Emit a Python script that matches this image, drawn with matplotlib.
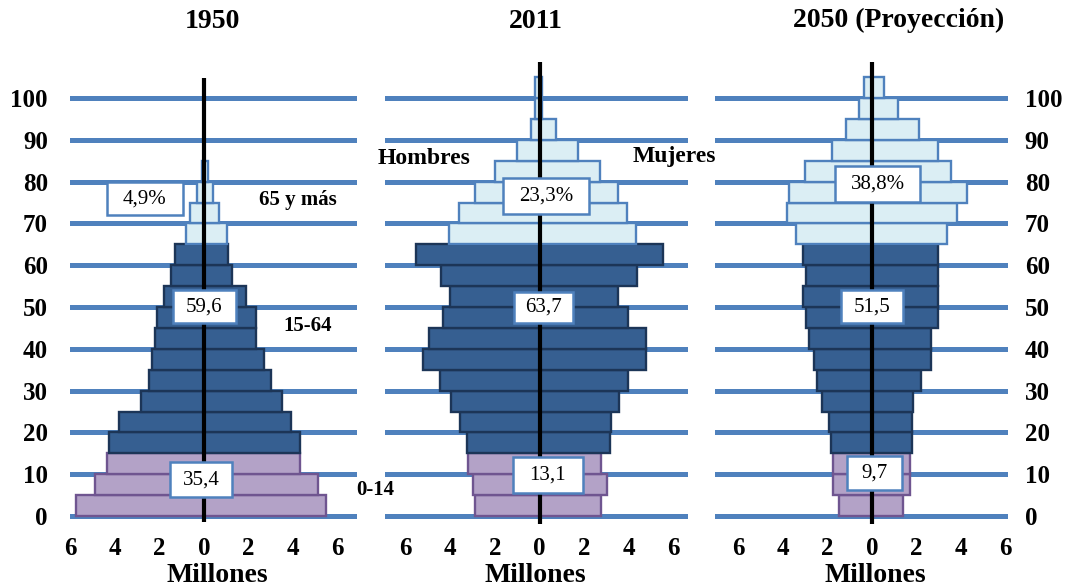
import matplotlib
matplotlib.use("Agg")
import matplotlib.pyplot as plt
from matplotlib.patches import Rectangle

plt.rcParams['font.family'] = ['Liberation Serif', 'DejaVu Serif']

# ---------------------------------------------------------------- data
age_start = list(range(0, 105, 5))          # 5-year groups, 0-4 ... 100+
grid_ages = list(range(0, 101, 10))
x_ticks = [-6, -4, -2, 0, 2, 4, 6]
x_tick_labels = ['6', '4', '2', '0', '2', '4', '6']
panel_titles = ['1950', '2011', '2050 (Proyección)']

# population in millions per age group (men drawn to the left)
men_1950 = [5.74, 4.89, 4.34, 4.25, 3.81, 2.84, 2.45, 2.35, 2.20, 2.12,
            1.79, 1.49, 1.30, 0.82, 0.63, 0.33, 0.10, 0, 0, 0, 0]
women_1950 = [5.47, 5.13, 4.30, 4.30, 3.89, 3.48, 2.99, 2.69, 2.33, 2.33,
              1.87, 1.27, 1.09, 1.02, 0.69, 0.42, 0.19, 0, 0, 0, 0]

men_2011 = [2.89, 3.00, 3.19, 3.26, 3.57, 3.98, 4.46, 5.21, 4.97, 4.31,
            4.01, 4.42, 5.54, 4.04, 3.60, 2.89, 2.00, 1.00, 0.38, 0.20, 0.20]
women_2011 = [2.74, 3.01, 2.74, 3.16, 3.19, 3.57, 3.98, 4.78, 4.78, 3.96,
              3.50, 4.36, 5.55, 4.33, 3.91, 3.50, 2.71, 1.71, 0.74, 0.10, 0.10]

men_2050 = [1.46, 1.73, 1.76, 1.83, 1.95, 2.25, 2.48, 2.60, 2.83, 2.96,
            3.08, 2.96, 3.11, 3.41, 3.83, 3.71, 3.00, 1.80, 1.17, 0.60, 0.35]
women_2050 = [1.39, 1.72, 1.72, 1.80, 1.80, 1.85, 2.18, 2.63, 2.63, 2.96,
              2.96, 2.96, 2.96, 3.38, 3.80, 4.28, 3.53, 2.96, 2.13, 1.15, 0.52]

# share of each broad age group
shares_1950 = ['4,9%', '59,6', '35,4']
shares_2011 = ['23,3%', '63,7', '13,1']
shares_2050 = ['38,8%', '51,5', '9,7']

# ---------------------------------------------------------------- style
W, H, DPI = 1072, 587, 100
GRID_C = '#4F81BD'
FILL = {'young': '#B3A2C7', 'adult': '#365F91', 'old': '#DBEEF4'}
EDGE = {'young': '#6F5590', 'adult': '#1C3557', 'old': '#4F81BD'}
PX_X = 22.3     # pixels per million
PX_Y = 4.18     # pixels per year of age
AGE0_PX = 516   # pixel row of age 0
YLIM = (-2, 110)

# left / centre / right pixel columns of the three panels
panels_px = [(70, 204, 357), (385, 539.5, 688), (715, 872, 1008)]
center_line = [(-1.5, 104.8), (-2, 108.7), (-2, 108.7)]
xlabel_px = [217, 535, 875]

# label boxes: (x in millions, age, box width px, box height px)
box_pos = [
    [(-2.65, 75.9, 76, 33), (0.0, 50.1, 63, 33), (-0.13, 8.7, 62, 35)],
    [(0.29, 76.6, 86, 36), (0.18, 49.9, 59, 31), (0.38, 9.8, 70, 36)],
    [(0.25, 79.4, 85, 36), (0.0, 50.1, 62, 33), (0.11, 10.3, 55, 34)],
]


def group_of(age):
    if age < 15:
        return 'young'
    if age < 65:
        return 'adult'
    return 'old'


fig = plt.figure(figsize=(W / DPI, H / DPI), dpi=DPI)


def fx(px):
    return px / W


def fy(py):
    return 1 - py / H


y_top_px = AGE0_PX - YLIM[1] * PX_Y
y_bot_px = AGE0_PX - YLIM[0] * PX_Y

series = [(men_1950, women_1950, shares_1950),
          (men_2011, women_2011, shares_2011),
          (men_2050, women_2050, shares_2050)]

axes = []
for i, ((left, mid, right), (men, women, shares)) in enumerate(zip(panels_px, series)):
    ax = fig.add_axes([fx(left), fy(y_bot_px), fx(right - left),
                       (y_bot_px - y_top_px) / H])
    axes.append(ax)
    ax.set_xlim(-(mid - left) / PX_X, (right - mid) / PX_X)
    ax.set_ylim(*YLIM)
    for s in ax.spines.values():
        s.set_visible(False)
    ax.set_facecolor('none')

    for g in grid_ages:
        ax.axhline(g, color=GRID_C, lw=3.6, zorder=1)

    for a, m, w in zip(age_start, men, women):
        grp = group_of(a)
        for val in (-m, w):
            if val != 0:
                ax.barh(a, val, height=5, align='edge', color=FILL[grp],
                        edgecolor=EDGE[grp], linewidth=1.7, zorder=2)

    lo, hi = center_line[i]
    ax.plot([0, 0], [lo, hi], color='black', lw=3.0, zorder=3,
            solid_capstyle='butt')

    for text, (bx, by, bw, bh) in zip(shares, box_pos[i]):
        wd, hd = bw / PX_X, bh / PX_Y
        ax.add_patch(Rectangle((bx - wd / 2, by - hd / 2), wd, hd,
                               facecolor='white', edgecolor=GRID_C,
                               lw=1.8, zorder=4))
        ax.text(bx, by, text, ha='center', va='center', fontsize=15,
                zorder=5)

    ax.set_xticks(x_ticks)
    ax.set_xticklabels(x_tick_labels, fontsize=18, fontweight='bold')
    ax.tick_params(axis='x', length=0, pad=9)
    ax.set_xlabel('Millones', fontsize=20, fontweight='bold', labelpad=2)
    ax.xaxis.label.set_x((xlabel_px[i] - left) / (right - left))

    ax.set_yticks(grid_ages)
    ax.set_yticklabels([str(g) for g in grid_ages], fontsize=18,
                       fontweight='bold')
    if i == 0:
        ax.tick_params(axis='y', length=0, pad=16)
    elif i == 2:
        ax.yaxis.tick_right()
        ax.tick_params(axis='y', length=0, pad=12)
    else:
        ax.tick_params(axis='y', left=False, labelleft=False)

# panel titles
title_px = [(212, 22), (536, 22), (899, 20)]
for t, (tx, ty) in zip(panel_titles, title_px):
    fig.text(fx(tx), fy(ty), t, ha='center', va='center', fontsize=20,
             fontweight='bold')

# age group names and sex labels
a1, a2 = axes[0], axes[1]
a1.text(4.19, 75.6, '65 y más', ha='center', va='center', fontsize=15,
        fontweight='bold')
a1.text(4.66, 45.5, '15-64', ha='center', va='center', fontsize=15,
        fontweight='bold')
a1.text(7.67, 6.2, '0-14', ha='center', va='center', fontsize=15,
        fontweight='bold', clip_on=False)
a2.text(-5.18, 85.6, 'Hombres', ha='center', va='center', fontsize=17,
        fontweight='bold')
a2.text(6.03, 85.9, 'Mujeres', ha='center', va='center', fontsize=17,
        fontweight='bold')

fig.savefig('out.png', dpi=DPI)
